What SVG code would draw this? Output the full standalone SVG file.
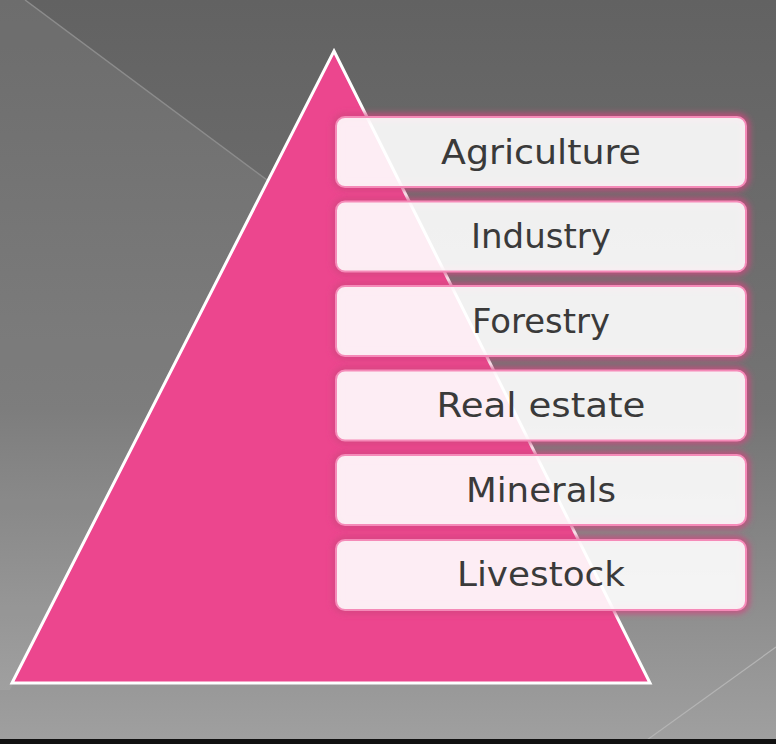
<svg xmlns="http://www.w3.org/2000/svg" width="776" height="744" viewBox="0 0 776 744">
  <defs>
    <linearGradient id="bg" x1="0" y1="0" x2="0" y2="1">
      <stop offset="0" stop-color="#626262"/>
      <stop offset="0.55" stop-color="#747474"/>
      <stop offset="1" stop-color="#a0a0a0"/>
    </linearGradient>
    <filter id="glow" x="-10%" y="-30%" width="120%" height="160%">
      <feGaussianBlur stdDeviation="3"/>
    </filter>
    <style>
      .box { fill: #ffffff; fill-opacity: 0.9; stroke: #f58ab8; stroke-width: 2; }
      .halo { fill: none; stroke: #d2457f; stroke-width: 7; stroke-opacity: 0.9; filter: url(#glow); }
      .lbl { font-family: "DejaVu Sans", "Liberation Sans", sans-serif; font-size: 34px; fill: #3a3a3a; text-anchor: middle; }
    </style>
  </defs>

  <g id="background">
    <rect x="0" y="0" width="776" height="744" fill="url(#bg)"/>
    <polygon points="0,0 25,0 272,184 10,690 0,690" fill="#ffffff" fill-opacity="0.07"/>
    <line x1="25" y1="0" x2="267" y2="180" stroke="#8c8c8c" stroke-width="1.5"/>
    <line x1="647" y1="740" x2="776" y2="647" stroke="#b4b4b4" stroke-width="1.2"/>
    <rect x="0" y="739" width="776" height="5" fill="#111111"/>
  </g>

  <g id="pyramid">
    <polygon points="334,51 650,683 12,683" fill="#ec468e" stroke="#ffffff" stroke-width="3" stroke-linejoin="miter"/>
  </g>

  <g id="box-agriculture">
    <rect class="halo" x="336" y="117" width="410" height="70" rx="9"/>
    <rect class="box" x="336" y="117" width="410" height="70" rx="9"/>
    <text class="lbl" x="541" y="163.5" textLength="200" lengthAdjust="spacingAndGlyphs">Agriculture</text>
  </g>
  <g id="box-industry">
    <rect class="halo" x="336" y="201.5" width="410" height="70" rx="9"/>
    <rect class="box" x="336" y="201.5" width="410" height="70" rx="9"/>
    <text class="lbl" x="541" y="248" textLength="140" lengthAdjust="spacingAndGlyphs">Industry</text>
  </g>
  <g id="box-forestry">
    <rect class="halo" x="336" y="286" width="410" height="70" rx="9"/>
    <rect class="box" x="336" y="286" width="410" height="70" rx="9"/>
    <text class="lbl" x="541" y="332.5" textLength="138" lengthAdjust="spacingAndGlyphs">Forestry</text>
  </g>
  <g id="box-real-estate">
    <rect class="halo" x="336" y="370.5" width="410" height="70" rx="9"/>
    <rect class="box" x="336" y="370.5" width="410" height="70" rx="9"/>
    <text class="lbl" x="541" y="417" textLength="209" lengthAdjust="spacingAndGlyphs">Real estate</text>
  </g>
  <g id="box-minerals">
    <rect class="halo" x="336" y="455" width="410" height="70" rx="9"/>
    <rect class="box" x="336" y="455" width="410" height="70" rx="9"/>
    <text class="lbl" x="541" y="502" textLength="150" lengthAdjust="spacingAndGlyphs">Minerals</text>
  </g>
  <g id="box-livestock">
    <rect class="halo" x="336" y="540" width="410" height="70" rx="9"/>
    <rect class="box" x="336" y="540" width="410" height="70" rx="9"/>
    <text class="lbl" x="541" y="586" textLength="168" lengthAdjust="spacingAndGlyphs">Livestock</text>
  </g>
</svg>
